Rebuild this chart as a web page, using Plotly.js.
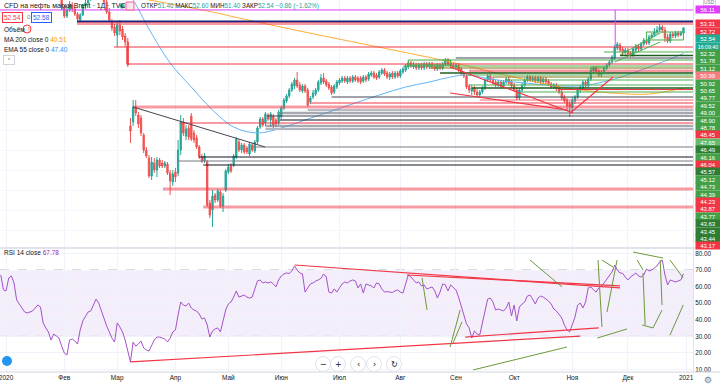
<!DOCTYPE html>
<html><head><meta charset="utf-8">
<script src="https://cdn.plot.ly/plotly-3.0.1.min.js"></script>
<style>html,body{margin:0;padding:0;background:#fff;}#chart{width:720px;height:387px;}</style>
</head><body><div id="chart"></div>
<script>
// ---------- DATA ----------
const monthTickIdx = [0,22,42,64,84,104,126,149,170,192,214,235,257];
const monthTickText = ["2020","Фев","Мар","Апр","Май","Июн","Июл","Авг","Сен","Окт","Ноя","Дек","2021"];

const candleStart = 21; // trading-day index of the first visible candle
const opens = [
58.1,56.5,54.9,56.1,57.1,56.3,55.3,54.1,55.1,56.9,
57.5,58.5,58.9,59.7,60.1,59.7,58.9,57.7,55.7,53.7,
52.7,51.1,53.1,52.3,50.9,49.7,32.9,33.7,36.7,35.1,
34.5,31.1,28.1,26.5,22.9,25.5,24.1,26.1,25.5,24.9,
25.3,23.5,21.7,23.7,23.5,28.1,33.7,30.9,32.5,34.9,
31.5,30.5,28.7,26.7,25.9,25.7,17.5,16.1,19.1,18.1,
19.7,16.9,20.1,23.7,24.9,25.1,26.7,29.7,28.1,29.1,
28.5,27.3,29.1,27.9,29.7,32.7,34.3,33.5,35.1,34.1,
34.9,34.1,33.5,34.7,36.5,37.9,38.9,40.1,40.9,42.1,
41.1,39.9,40.9,40.1,37.7,38.7,39.3,40.1,41.5,42.5,
41.9,41.3,40.7,39.7,40.7,41.5,41.9,42.5,41.7,42.5,
41.9,42.7,42.5,42.5,41.9,42.7,42.3,43.1,43.5,43.1,
42.7,43.5,44.1,43.5,42.7,43.5,42.7,43.5,42.9,43.7,
44.1,44.7,45.5,44.7,45.1,44.5,45.1,44.5,45.3,44.7,
45.3,44.9,44.3,45.1,44.5,45.3,46.1,45.5,45.1,44.7,
45.1,44.3,43.5,42.9,40.9,39.9,40.5,39.7,39.1,39.7,
40.5,42.1,42.9,42.3,41.7,41.1,41.7,40.9,41.7,42.3,
41.7,41.1,40.1,38.5,40.1,41.1,42.1,42.7,42.1,42.5,
41.9,42.5,41.7,42.3,41.9,41.3,40.7,41.1,40.5,39.7,
38.7,38.1,37.3,36.5,37.9,38.7,40.1,40.5,41.7,40.9,
42.3,43.9,44.5,43.9,43.1,43.7,44.5,45.1,45.7,46.5,
48.5,49.1,48.3,47.7,48.1,47.5,47.1,48.1,48.9,48.3,
49.3,49.9,49.5,50.7,51.1,51.7,52.1,52.7,52.1,50.7,
49.9,51.3,50.9,51.5,51.1,51.46];
const highs = [
58.7,57.1,56.7,57.9,57.7,56.7,55.7,55.5,57.3,58.1,
59.1,59.5,60.3,60.7,60.7,60.1,59.3,58.1,56.5,54.3,
53.3,53.7,54.1,52.9,51.5,50.5,34.5,38.1,38.1,35.7,
35.1,31.5,28.7,27.1,26.7,26.5,26.7,26.5,26.1,25.9,
25.7,24.1,24.1,24.5,30.1,35.1,34.5,33.1,33.1,35.5,
32.1,31.1,29.1,27.3,27.5,26.1,18.1,20.1,19.5,20.3,
20.1,19.5,24.3,25.3,25.5,27.3,30.7,30.3,29.5,29.5,
28.9,29.7,29.5,30.1,32.9,34.7,34.7,35.7,35.5,35.7,
35.3,34.5,36.1,36.9,38.5,39.3,40.5,41.7,42.5,43.7,
41.7,41.3,41.3,40.5,38.9,40.1,40.5,42.1,43.3,43.5,
42.3,41.7,41.1,41.3,42.1,42.5,42.9,42.9,42.9,42.9,
43.1,43.1,42.9,42.9,43.1,43.1,43.7,43.9,43.9,43.5,
44.1,44.5,44.5,43.9,43.7,43.9,43.9,43.9,44.3,44.7,
45.3,45.9,45.9,45.7,45.5,45.5,45.5,45.7,45.7,45.7,
45.7,45.3,45.5,45.5,45.7,46.5,46.5,45.9,45.5,45.5,
45.5,44.7,43.9,43.3,41.3,41.1,40.9,40.3,40.1,40.9,
42.5,43.3,43.3,42.7,42.1,42.1,42.1,42.1,42.7,42.7,
42.1,41.5,40.5,40.5,41.5,42.5,43.1,43.1,42.9,42.9,
42.9,42.9,42.7,42.7,42.3,41.7,41.5,41.5,40.9,40.1,
39.1,38.5,37.9,38.7,39.1,40.5,41.1,42.1,42.1,42.7,
44.5,44.9,44.9,44.3,44.1,44.9,45.5,46.1,47.1,49.1,
49.7,49.5,48.7,48.5,48.5,47.9,48.7,49.3,49.3,49.7,
50.5,50.3,51.1,51.5,52.5,52.9,53.3,53.1,52.7,51.3,
51.7,51.7,51.9,51.9,51.9,52.60];
const lows = [
56.3,54.5,54.5,55.7,55.7,54.9,53.7,53.7,54.9,56.3,
57.1,57.9,58.5,59.1,58.7,58.3,57.3,55.3,53.7,51.9,
50.9,48.7,51.1,50.1,48.7,44.7,29.5,32.9,34.9,32.5,
30.9,27.5,26.5,22.5,22.1,23.5,22.7,24.5,24.5,24.5,
23.1,19.1,20.9,21.7,22.9,27.1,30.9,30.1,30.1,29.9,
29.5,28.3,26.3,25.5,25.5,16.7,14.5,12.7,17.5,17.7,
16.5,15.7,19.7,23.3,23.5,24.7,26.3,27.7,27.5,27.3,
27.3,26.9,27.7,27.5,29.3,32.3,32.7,32.9,33.9,32.7,
32.5,32.7,33.1,34.3,36.1,37.5,38.5,39.7,40.3,40.5,
39.7,39.5,39.5,36.7,37.3,38.3,38.9,39.7,41.1,41.3,
40.7,40.1,39.1,39.3,40.3,41.1,41.5,41.5,41.3,41.5,
41.5,41.7,41.5,41.3,41.5,41.7,41.9,42.7,42.3,42.1,
42.3,43.1,42.9,42.3,42.1,42.3,42.3,42.5,42.5,43.3,
43.7,44.3,44.5,44.3,44.1,44.1,44.1,44.1,44.3,44.3,
44.3,43.9,43.9,44.1,44.1,44.9,44.9,44.5,44.3,44.3,
43.7,43.1,42.5,40.3,39.5,39.1,39.1,38.7,38.7,39.3,
40.1,41.7,41.7,41.1,40.7,40.7,40.5,40.5,41.3,41.1,
40.5,39.7,38.1,38.1,39.7,40.7,41.7,41.7,41.7,41.5,
41.5,41.3,41.3,41.3,40.9,40.3,40.3,39.9,39.3,38.1,
37.5,36.1,34.7,35.7,37.3,38.3,39.5,40.1,40.5,40.5,
41.9,43.3,43.3,42.7,42.7,43.3,44.1,44.7,45.3,46.1,
48.1,47.7,47.1,47.1,46.9,46.7,46.7,47.7,47.9,47.9,
48.9,49.1,49.1,50.3,50.7,51.3,51.7,51.5,49.7,49.5,
49.5,50.5,50.5,50.7,50.9,51.40];
const closes = [
56.7,54.9,56.1,57.3,56.3,55.3,54.3,55.1,56.9,57.5,
58.5,58.9,59.7,60.1,59.3,58.7,57.7,55.7,54.1,52.5,
51.5,53.1,51.9,50.7,49.7,45.1,31.9,36.7,35.5,33.3,
31.5,28.1,26.9,22.9,25.7,24.1,26.1,24.9,24.9,25.5,
23.5,21.9,23.3,22.7,28.1,33.7,31.5,32.3,30.7,30.3,
30.1,28.7,26.7,25.9,26.9,17.1,15.1,18.9,18.1,19.9,
16.9,18.9,23.9,24.7,23.9,26.9,30.3,28.1,29.1,27.7,
27.7,29.3,28.1,29.7,32.5,34.3,33.1,35.3,34.3,35.3,
33.1,33.3,35.7,36.5,38.1,38.9,40.1,41.3,42.1,40.9,
40.1,40.9,39.9,37.1,38.5,39.5,40.1,41.7,42.5,41.7,
41.1,40.5,39.5,40.9,41.7,42.1,42.5,41.9,42.5,41.9,
42.7,42.1,41.9,41.7,42.7,42.1,43.3,43.5,42.7,42.5,
43.7,44.1,43.3,42.7,43.3,42.7,43.5,42.9,43.9,44.3,
44.9,45.5,44.9,45.1,44.5,45.1,44.5,45.3,44.7,45.3,
44.7,44.3,45.1,44.5,45.3,46.1,45.3,44.9,44.7,45.1,
44.1,43.5,42.9,40.7,40.1,40.5,39.7,39.1,39.7,40.5,
42.1,42.9,42.1,41.5,41.1,41.7,40.9,41.7,42.3,41.5,
40.9,40.1,38.5,40.1,41.1,42.1,42.7,42.1,42.5,41.9,
42.5,41.7,42.3,41.7,41.3,40.7,41.1,40.3,39.7,38.5,
37.9,36.9,36.7,38.1,38.7,40.1,40.7,41.7,40.9,42.3,
44.1,44.5,43.7,43.1,43.7,44.5,45.1,45.7,46.7,48.7,
49.3,48.1,47.7,48.1,47.3,47.1,48.3,48.9,48.3,49.3,
50.1,49.5,50.7,51.1,51.7,52.1,52.7,52.1,50.5,49.9,
51.3,50.9,51.5,51.1,51.5,52.54];

// Moving averages (index, value)
const emaIdx = [44,48,54,62,70,78,86,95,104,113,122,132,141,151,160,168,174,183,192,200,210,216,222,230,240,250,256];
const emaVal = [60.7,58.1,52.3,45.5,40.7,36.1,32.7,31.5,32.5,34.1,35.7,37.5,39.1,40.7,41.7,42.7,43.1,42.3,41.7,41.3,40.9,40.9,41.3,42.3,44.1,46.1,47.40];
const maIdx = [50,78,88,111,135,149,168,190,212,229,243,256];
const maVal = [58.5,55.7,54.5,51.9,49.3,47.8,45.7,42.9,40.5,39.5,39.3,40.51];

// RSI 14, from index -2
const rsiStart = -2;
const rsiValues = [
67.0,58.0,57.4,65.2,66.4,62.2,51.9,49.5,47.7,44.7,
44.1,44.7,45.3,47.1,48.9,47.7,38.1,35.1,32.7,27.8,
31.4,30.2,29.0,24.2,20.0,18.8,27.8,28.4,27.2,25.4,
33.9,39.3,42.3,44.7,45.3,48.9,52.5,50.1,45.3,41.1,
36.3,32.7,29.0,26.6,38.1,35.7,32.7,27.8,20.6,14.6,
26.6,24.2,25.4,27.2,23.0,21.8,21.2,24.8,27.8,29.6,
29.6,29.0,28.4,26.6,29.0,32.7,33.9,42.9,50.7,48.9,
48.3,50.1,47.1,45.9,45.3,43.5,40.5,41.1,36.9,29.6,
33.3,34.5,35.1,32.7,38.7,45.9,49.5,50.7,53.7,57.4,
53.7,54.3,54.9,53.7,53.1,53.7,59.2,63.4,64.0,62.2,
62.8,62.2,62.8,61.6,59.8,64.0,66.4,67.6,68.2,67.9,
69.4,72.4,70.0,68.2,67.6,56.7,59.2,61.6,62.2,63.4,
64.0,65.0,67.6,65.8,56.7,56.1,58.6,56.7,59.2,61.6,
62.8,62.2,63.4,64.0,63.4,59.2,61.6,56.1,61.6,61.0,
60.4,59.2,62.2,61.6,58.6,56.7,57.0,56.7,56.4,57.4,
58.0,56.7,56.1,61.6,67.0,65.8,64.0,62.2,62.8,60.4,
61.0,58.6,59.2,59.8,57.4,53.1,56.7,61.6,61.0,57.4,
61.0,59.2,58.0,53.7,48.3,42.3,37.5,35.1,29.0,33.3,
31.4,30.8,38.7,45.3,52.5,53.1,50.7,45.9,46.5,45.9,
45.3,47.1,50.7,42.3,48.9,39.3,47.7,49.5,50.7,54.3,
54.9,52.5,49.5,53.1,54.3,53.7,52.5,51.3,49.5,46.5,
45.3,42.9,41.1,36.9,33.9,32.7,36.9,41.7,48.9,50.1,
47.1,50.7,59.2,59.8,58.0,56.7,59.2,60.4,62.2,64.6,
66.4,68.8,73.0,70.0,68.2,68.0,65.8,64.0,65.8,67.0,
68.2,66.4,65.8,67.0,70.6,69.4,70.0,71.2,72.4,74.8,
76.0,67.0,61.0,64.0,63.4,62.8,63.4,64.0,67.78];

// Drawn horizontal price levels (price, start index, kind)
const hLevel = [56.11,53.8,53.4,48.7,45.3,46.5,46.1,44.9,44.5,43.9,43.5,43.1,42.7,42.1,41.1,40.5,40.2,39.7,38.7,38.1,37.5,36.7,36.1,35.5,34.9,34.1,33.5,32.9,32.3,28.7,26.7,25.9,25.1,20.3,16.7,47.7,47.0];
const hFrom  = [-3,26.8,26.8,40.8,45.7,170,165,150,160,175,164,174,184,189,175,176,209,194,123,179,115,48,114,103.5,98.6,103.5,65.8,98,98,93,73,64.6,74.5,59.3,74.5,226,232];
const hKind  = ['pink','navy','redThick','red','red','dark','green','green','olive','redThick','darkGreen','green','olive','green','green','darkGreen','red','green','dark','redLight','red','redThick','gray','grayThick','dark','black','red','grayThick','grayLight','gray','black','gray','black','redThick','redThick','green','darkGreen'];
// Drawn trend segments [idx0, price0, idx1, price1, kind]
const trendLines = [
 [48,36.7,97.9,28.7,'dark'],
 [45.7,48.7,45.7,45.3,'red'],
 [167.8,44.7,214.3,35.5,'red'],
 [167.8,39.5,212,36.1,'red'],
 [213.2,35.5,229.4,42.7,'red'],
 [232,47.1,247.2,51.5,'green'],
 [230,45.7,247.2,49.7,'green'],
 [230.2,56.11,230.2,48.7,'pink']
];
const boxes = [[152,168,45.1,46.1],[242,256,50.1,51.7],[221,226,43.5,44.7]];
// RSI drawings [idx0, rsi0, idx1, rsi1]
const rsiRedLines = [[47,14.6,217,30.2],[173.5,29.6,224,35.1],[109,73.0,232,59.2],[151.5,67.0,232,60.4]];
const rsiGreenLines = [[157.2,65.2,159.1,45.9],[167.8,23.6,171.6,45.9],[168.9,26.0,172.3,38.7],[176.5,9.8,212,23.6],[198,76,210.1,59.8],[223.7,76,225.2,35.7],[225.2,76,229.4,71.8],[230.9,76,227.1,44.7],[223.4,29,234.7,34.5],[238.5,76,240.7,70],[240.7,68.2,241.5,36.9],[240.4,36.9,244.5,35.1],[244.5,35.1,247.9,45.9],[247.2,76,247.9,48.9],[250.9,76,255.9,65.2],[250.9,30.8,255.9,48.9],[237,80.8,248.3,77.2]];

// Price-scale labels
const priceLabels = ['56.11','53.31','52.72','52.54','16:09:40','52.32','51.78','51.12','50.99','50.92','50.65','49.77','49.52','49.00','48.90','48.78','48.45','47.65','46.49','46.16','46.04','45.57','45.12','44.73','44.39','44.23','43.87','43.77','43.63','43.45','43.44','43.17'];
const priceLabelValue = [56.11,53.31,52.72,52.54,52.54,52.32,51.78,51.12,50.99,50.92,50.65,49.77,49.52,49.00,48.90,48.78,48.45,47.65,46.49,46.16,46.04,45.57,45.12,44.73,44.39,44.23,43.87,43.77,43.63,43.45,43.44,43.17];
const priceLabelKind = ['pink','red','red','teal','teal','green','green','green','salmon','green','green','green','green','green','green','green','red','lgreen','dgreen','green','red','dgreen','green','green','green','red','red','green','dgreen','dgreen','dgreen','red'];
const rsiTicks = [10,20,30,40,50,60,70,80];

// ---------- STYLES ----------
const lineStyle = {
 pink:{c:'#e040fb',w:1}, navy:{c:'#1a237e',w:2}, redThick:{c:'rgba(242,54,69,0.5)',w:3},
 red:{c:'#f23645',w:1.2}, redLight:{c:'rgba(242,54,69,0.5)',w:1.5}, dark:{c:'#434651',w:1},
 black:{c:'#131722',w:1}, gray:{c:'#787b86',w:1}, grayThick:{c:'rgba(120,123,134,0.65)',w:2.5},
 grayLight:{c:'#b2b5be',w:2}, green:{c:'#4caf50',w:1}, darkGreen:{c:'#1b5e20',w:1.5}, olive:{c:'#827717',w:1}
};
const labelColor = {pink:'#e040fb',red:'#f23645',teal:'#22ab94',green:'#43a047',dgreen:'#2e7d32',lgreen:'#66bb6a',salmon:'#f77c80'};
const FONT = 'Liberation Sans, Arial, sans-serif';
const W = 693, H = 372, XMIN = -2.3, XMAX = 259.6;
const px = x => x / W, py = y => 1 - y / H;

// ---------- TRACES ----------
const candleX = opens.map((_, k) => candleStart + k);
const rsiX = rsiValues.map((_, k) => rsiStart + k);
const data = [
 {type:'candlestick', x:candleX, open:opens, high:highs, low:lows, close:closes, xaxis:'x', yaxis:'y',
  increasing:{line:{color:'#26a69a',width:1},fillcolor:'#26a69a'},
  decreasing:{line:{color:'#ef5350',width:1},fillcolor:'#ef5350'},
  whiskerwidth:0, hoverinfo:'skip', showlegend:false},
 {type:'scatter', mode:'lines', x:emaIdx, y:emaVal, xaxis:'x', yaxis:'y', line:{color:'#64b5f6',width:1,shape:'spline'}, hoverinfo:'skip', showlegend:false},
 {type:'scatter', mode:'lines', x:maIdx, y:maVal, xaxis:'x', yaxis:'y', line:{color:'rgba(255,152,0,0.8)',width:1,shape:'spline'}, hoverinfo:'skip', showlegend:false},
 {type:'scatter', mode:'lines', x:rsiX, y:rsiValues, xaxis:'x2', yaxis:'y2', line:{color:'#a552c9',width:1}, hoverinfo:'skip', showlegend:false}
];

// ---------- SHAPES ----------
const shapes = [];
shapes.push({type:'rect', xref:'x2', yref:'y2', x0:XMIN, x1:XMAX, y0:30, y1:70, fillcolor:'rgba(155,89,214,0.11)', line:{width:0}, layer:'below'});
[70,30].forEach(v => shapes.push({type:'line', xref:'x2', yref:'y2', x0:XMIN, x1:XMAX, y0:v, y1:v, line:{color:'#b2b5be',width:1,dash:'dash'}, layer:'below'}));
hLevel.forEach((p,k) => { const s = lineStyle[hKind[k]];
  shapes.push({type:'line', xref:'x', yref:'y', x0:hFrom[k], x1:XMAX, y0:p, y1:p, line:{color:s.c,width:s.w}}); });
trendLines.forEach(t => { const s = lineStyle[t[4]];
  shapes.push({type:'line', xref:'x', yref:'y', x0:t[0], y0:t[1], x1:t[2], y1:t[3], line:{color:s.c,width:s.w}}); });
boxes.forEach(b => shapes.push({type:'rect', xref:'x', yref:'y', x0:b[0], x1:b[1], y0:b[2], y1:b[3], line:{color:'#4caf50',width:1}, fillcolor:'rgba(76,175,80,0.08)'}));
rsiRedLines.forEach(t => shapes.push({type:'line', xref:'x2', yref:'y2', x0:t[0], y0:t[1], x1:t[2], y1:t[3], line:{color:'#f23645',width:1.2}}));
rsiGreenLines.forEach(t => shapes.push({type:'line', xref:'x2', yref:'y2', x0:t[0], y0:t[1], x1:t[2], y1:t[3], line:{color:'#6a9a3a',width:1}}));
shapes.push({type:'rect', xref:'paper', yref:'paper', x0:0, x1:720/W, y0:py(249), y1:py(247), fillcolor:'#e0e3eb', line:{width:0}});
shapes.push({type:'line', xref:'paper', yref:'paper', x0:0, x1:720/W, y0:0, y1:0, line:{color:'#d1d4dc',width:1}});
const navX = [323,338,358,374,394], navGlyph = ['−','+','‹','›','↻'];
navX.forEach(cx => shapes.push({type:'circle', xref:'paper', yref:'paper', x0:px(cx-7.5), x1:px(cx+7.5), y0:py(364+7.5), y1:py(364-7.5), fillcolor:'#ffffff', line:{color:'#e0e3eb',width:1}}));
shapes.push({type:'circle', xref:'paper', yref:'paper', x0:px(2), x1:px(12), y0:py(366), y1:py(356), fillcolor:'#2196f3', line:{width:0}});
shapes.push({type:'circle', xref:'paper', yref:'paper', x0:px(119.5), x1:px(124.5), y0:py(8.5), y1:py(3.5), fillcolor:'#26a69a', line:{color:'#b2dfdb',width:1}});
shapes.push({type:'rect', xref:'paper', yref:'paper', x0:px(126), x1:px(134), y0:py(10), y1:py(2), fillcolor:'#fce4ec', line:{color:'#f06292',width:1}});
shapes.push({type:'circle', xref:'paper', yref:'paper', x0:px(23), x1:px(31), y0:py(33), y1:py(25), fillcolor:'#fff', line:{color:'#f23645',width:1}});

// ---------- ANNOTATIONS ----------
const ann = [];
const txt = (x, y, t, o={}) => ann.push(Object.assign({xref:'paper', yref:'paper', x:px(x), y:py(y), text:t, showarrow:false, xanchor:'left', yanchor:'middle', font:{family:FONT,size:7,color:'#131722'}}, o));
const teal = s => '<span style="color:#26a69a">'+s+'</span>';
txt(2, 6, 'CFD на нефть марки Brent · 1Д · TVC');
txt(139, 6, 'ОТКР'+teal('51.46')+' МАКС'+teal('52.60')+' МИН'+teal('51.40')+' ЗАКР'+teal('52.54 −0.86 (−1.62%)'), {font:{family:FONT,size:6.3,color:'#131722'}});
txt(2, 17.5, '52.54', {bordercolor:'#f23645', borderwidth:1, borderpad:1, bgcolor:'#fff', font:{family:FONT,size:6.5,color:'#f23645'}});
txt(25, 17.5, '0', {font:{family:FONT,size:6,color:'#787b86'}});
txt(31, 17.5, '52.58', {bordercolor:'#2962ff', borderwidth:1, borderpad:1, bgcolor:'#fff', font:{family:FONT,size:6.5,color:'#2962ff'}});
txt(2, 29, 'Объём', {font:{family:FONT,size:6.5,color:'#131722'}});
txt(25.6, 29, '!', {font:{family:FONT,size:6.5,color:'#f23645'}});
txt(2, 39.5, 'MA 200 close 0 <span style="color:#ff9800">40.51</span>', {font:{family:FONT,size:6.5,color:'#131722'}});
txt(2, 49.5, 'EMA 55 close 0 <span style="color:#2196f3">47.40</span>', {font:{family:FONT,size:6.5,color:'#131722'}});
txt(3, 60, '˄', {bordercolor:'#d1d4dc', borderwidth:1, borderpad:1, bgcolor:'#fff', width:8, height:6, font:{family:'DejaVu Sans',size:6,color:'#131722'}});
txt(2, 253, 'RSI 14 close <span style="color:#9c27b0">67.78</span>', {font:{family:FONT,size:6.5,color:'#131722'}});
navX.forEach((cx,k) => txt(cx, 364, navGlyph[k], {xanchor:'center', font:{family:'DejaVu Sans',size:8,color:'#131722'}}));
txt(708, 380, '⚙', {xanchor:'center', font:{family:'DejaVu Sans',size:9,color:'#787b86'}});
txt(709, 2.8, 'USD', {xanchor:'center', bordercolor:'#d1d4dc', borderwidth:1, borderpad:0, bgcolor:'#fff', font:{family:FONT,size:4.8,color:'#787b86'}});
const STEP = 1.48;
const pos = [];
priceLabelValue.forEach((p,k) => pos.push(k === 0 ? p : Math.min(p, pos[k-1] - STEP)));
priceLabels.forEach((t,k) => ann.push({xref:'paper', yref:'y', x:px(695), y:pos[k], text:t, showarrow:false, xanchor:'left', yanchor:'middle',
  width:24, height:7, borderpad:0, bgcolor:labelColor[priceLabelKind[k]], align:'center',
  font:{family:FONT, size:(t.length > 5 ? 5.2 : 6), color:'#ffffff'}}));

// ---------- LAYOUT ----------
const layout = {
 width:720, height:387, margin:{l:0, r:27, t:0, b:15},
 paper_bgcolor:'#ffffff', plot_bgcolor:'#ffffff', showlegend:false,
 font:{family:FONT, size:7, color:'#131722'},
 xaxis:{domain:[0,1], range:[XMIN,XMAX], anchor:'y', tickvals:monthTickIdx, showticklabels:false, showgrid:true, gridcolor:'#f0f3fa', zeroline:false, ticks:'', rangeslider:{visible:false}, fixedrange:true},
 yaxis:{domain:[py(247),1], range:[8.7,58.1], anchor:'x', side:'right', showticklabels:false, showgrid:true, gridcolor:'#f5f6f9', dtick:4, zeroline:false, ticks:'', showline:true, linecolor:'#e0e3eb', fixedrange:true},
 xaxis2:{domain:[0,1], range:[XMIN,XMAX], anchor:'y2', tickvals:monthTickIdx, ticktext:monthTickText, ticklabeloverflow:'allow', tickfont:{family:FONT,size:6.5,color:'#131722'}, showgrid:true, gridcolor:'#f0f3fa', zeroline:false, ticks:'', showline:false, fixedrange:true},
 yaxis2:{domain:[0,py(249)], range:[8.55,82.65], anchor:'x2', side:'right', tickvals:rsiTicks, ticktext:rsiTicks.map(v => v.toFixed(2)), tickfont:{family:FONT,size:6.3,color:'#131722'}, showgrid:true, gridcolor:'#f0f3fa', zeroline:false, ticks:'', showline:true, linecolor:'#e0e3eb', fixedrange:true},
 shapes:shapes, annotations:ann
};
Plotly.newPlot('chart', data, layout, {staticPlot:true, displayModeBar:false});
</script></body></html>
